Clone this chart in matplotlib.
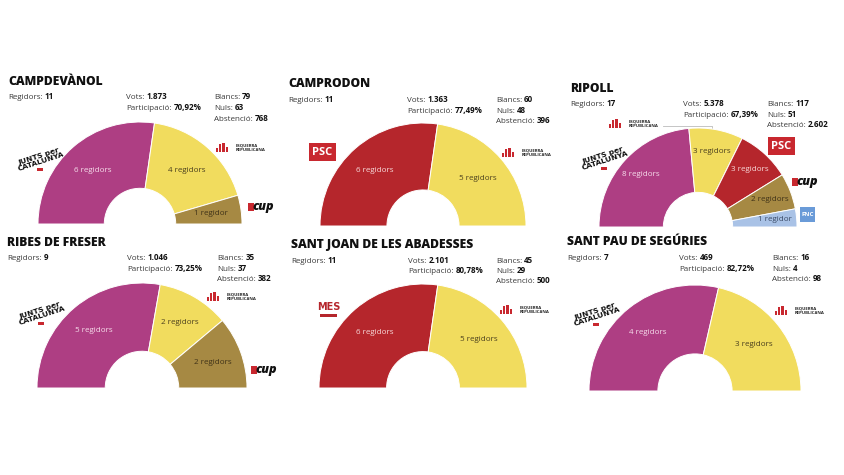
import matplotlib
matplotlib.use("Agg")
import matplotlib.pyplot as plt
from matplotlib.patches import Rectangle

# ---------------- data ----------------
municipis = ['CAMPDEVÀNOL', 'CAMPRODON', 'RIPOLL', 'RIBES DE FRESER',
             'SANT JOAN DE LES ABADESSES', 'SANT PAU DE SEGÚRIES']
regidors = [11, 11, 17, 9, 11, 7]
vots = ['1.873', '1.363', '5.378', '1.046', '2.101', '469']
participacio = ['70,92%', '77,49%', '67,39%', '73,25%', '80,78%', '82,72%']
blancs = [79, 60, 117, 35, 45, 16]
nuls = [63, 48, 51, 37, 29, 4]
abstencio = ['768', '396', '2.602', '382', '500', '98']
partits = [['JxCat', 'ERC', 'CUP'],
           ['PSC', 'ERC'],
           ['JxCat', 'ERC', 'PSC', 'CUP', 'FNC'],
           ['JxCat', 'ERC', 'CUP'],
           ['MES', 'ERC'],
           ['JxCat', 'ERC']]
escons = [[6, 4, 1], [6, 5], [8, 3, 3, 2, 1], [5, 2, 2], [6, 5], [4, 3]]

# ---------------- styles ----------------
party_color = {'JxCat': '#AE3E83', 'ERC': '#F1DC5E', 'CUP': '#A68943',
               'PSC': '#B5262C', 'MES': '#B5262C', 'FNC': '#A9C2E6'}
label_color = {'JxCat': '#F6DDEB', 'ERC': '#4A3F1E', 'CUP': '#3F3218',
               'PSC': '#F8DADA', 'MES': '#F8DADA', 'FNC': '#3A4A66'}

W, H = 844, 475
# (cx, cy, R, label distance) for each half-donut, in pixels
geom = [(140, 224, 102, 0.70), (423, 226, 103, 0.71), (698, 227, 99, 0.78),
        (142, 388, 105, 0.72), (423, 388, 104, 0.71), (695, 391, 106, 0.71)]
# text anchors: (title x, title y, left x, stats x, blank x, row1 y, row dy)
txt = [(8, 82, 8, 126, 214, 97, 11),
       (288, 84, 288, 407, 496, 100, 10.5),
       (570, 89, 570, 683, 767, 104, 10.5),
       (7, 243, 7, 127, 217, 258, 10.5),
       (291, 245, 291, 408, 496, 261, 10),
       (567, 242, 567, 679, 772, 258, 10.5)]
# logo positions
logos = [
    [('JxCat', 40, 159), ('ERC', 216, 148), ('CUP', 248, 207)],
    [('PSC', 309, 143), ('ERC', 502, 153)],
    [('JxCat', 604, 158), ('ERC', 609, 124), ('PSC', 768, 137), ('CUP', 792, 182), ('FNC', 800, 207)],
    [('JxCat', 41, 313), ('ERC', 207, 297), ('CUP', 251, 370)],
    [('MES', 320, 302), ('ERC', 500, 310)],
    [('JxCat', 596, 314), ('ERC', 775, 311)],
]

FONT = 'Open Sans'
NARROW = ['Liberation Sans Narrow', 'DejaVu Sans']
plt.rcParams['font.family'] = [FONT, 'DejaVu Sans']

fig = plt.figure(figsize=(W / 100, H / 100), dpi=100)
fig.patch.set_facecolor('white')
ax0 = fig.add_axes([0, 0, 1, 1])
ax0.set_xlim(0, W)
ax0.set_ylim(H, 0)
ax0.axis('off')
renderer = fig.canvas.get_renderer()

SMALL = 5.8


def pair(x, y, a, b, size=SMALL):
    yb = y + 2.2  # baseline
    t = ax0.text(x, yb, a, fontsize=size, color='#3a3a3a', ha='left', va='baseline')
    w = t.get_window_extent(renderer).width
    ax0.text(x + w + 2.0, yb, b, fontsize=size, color='#111111',
             fontweight='bold', ha='left', va='baseline')


def draw_logo(kind, x, y):
    if kind == 'ERC':
        hs = [4, 8, 9, 5]
        for i, h in enumerate(hs):
            ax0.add_patch(Rectangle((x + i * 3.2, y + 4 - h), 2.1, h, color='#C8282F', lw=0))
        ax0.text(x + 20, y - 0.5, 'ESQUERRA\nREPUBLICANA', fontsize=3.1, fontweight='bold',
                 color='#222222', ha='left', va='center', linespacing=1.2)
    elif kind == 'PSC':
        ax0.add_patch(Rectangle((x, y), 27, 18, color='#C8282F', lw=0))
        ax0.text(x + 13.5, y + 9.5, 'PSC', fontsize=8, color='white', ha='center',
                 va='center', fontweight='bold')
    elif kind == 'CUP':
        ax0.add_patch(Rectangle((x, y - 4), 6, 8, color='#C8282F', lw=0))
        ax0.text(x + 4, y, 'cup', fontsize=9, color='#111111', fontweight='heavy',
                 ha='left', va='center', style='italic')
    elif kind == 'JxCat':
        ax0.text(x, y, 'JUNTS per\nCATALUNYA', fontsize=5.4, fontweight='bold',
                 color='#111111', ha='center', va='center', rotation=18,
                 linespacing=0.9, family=NARROW)
        ax0.add_patch(Rectangle((x - 3, y + 9), 6, 3, color='#C8282F', lw=0))
    elif kind == 'MES':
        ax0.text(x + 8.5, y + 5, 'MES', fontsize=7, fontweight='bold', color='#B5262C',
                 ha='center', va='center', family=NARROW)
        ax0.add_patch(Rectangle((x, y + 12), 17, 3, color='#B5262C', lw=0))
    elif kind == 'FNC':
        ax0.add_patch(Rectangle((x, y), 15, 15, color='#6A9BD8', lw=0))
        ax0.text(x + 7.5, y + 7.8, 'FNC', fontsize=4.5, fontweight='bold', color='white',
                 ha='center', va='center')


for i in range(6):
    cx, cy, R, ld = geom[i]
    tx, ty, lx, sx, bx, ry, dy = txt[i]
    ax0.text(tx, ty, municipis[i], fontsize=8.7, fontweight='heavy', color='#111111',
             ha='left', va='center')
    pair(lx, ry, 'Regidors:', str(regidors[i]))
    pair(sx, ry, 'Vots:', vots[i])
    pair(sx, ry + dy, 'Participació:', participacio[i])
    pair(bx, ry, 'Blancs:', str(blancs[i]))
    pair(bx, ry + dy, 'Nuls:', str(nuls[i]))
    pair(bx, ry + 2 * dy, 'Abstenció:', abstencio[i])

    # half donut
    ax = fig.add_axes([(cx - R) / W, (H - cy) / H, 2 * R / W, R / H])
    vals = escons[i]
    cols = [party_color[p] for p in partits[i]]
    labs = [f'{v} regidor' if v == 1 else f'{v} regidors' for v in vals]
    wedges, texts = ax.pie(vals + [sum(vals)], colors=cols + ['white'],
                           labels=labs + [''], startangle=180, counterclock=False,
                           labeldistance=ld,
                           wedgeprops=dict(width=0.65, edgecolor='white', linewidth=0.7),
                           textprops=dict(fontsize=5.8))
    wedges[-1].set_visible(False)
    for t, p in zip(texts[:-1], partits[i]):
        t.set_ha('center')
        t.set_va('center')
        t.set_color(label_color[p])
    ax.set_aspect('auto')
    ax.set_xlim(-1, 1)
    ax.set_ylim(0, 1)
    ax.axis('off')

    for kind, x, y in logos[i]:
        draw_logo(kind, x, y)

# leader line for ERC in Ripoll
ax0.plot([663, 712, 712], [126, 126, 131], color='#bbbbbb', lw=0.6)

fig.savefig('out.png', dpi=100, facecolor='white')
